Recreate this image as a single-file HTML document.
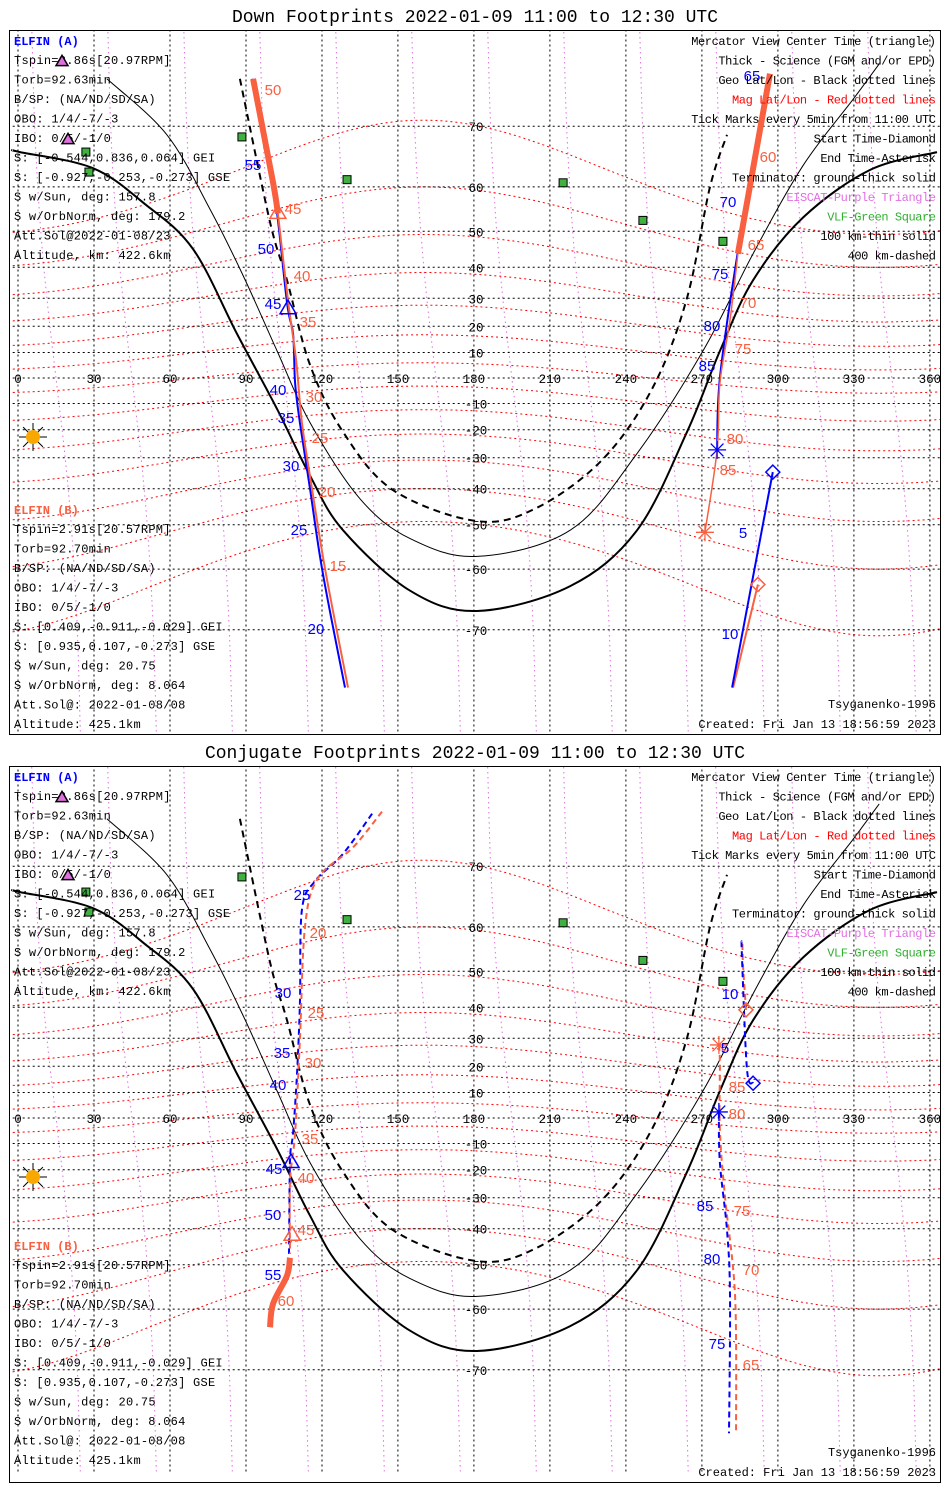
<!DOCTYPE html>
<html><head><meta charset="utf-8"><style>
html,body{margin:0;padding:0;background:#fff;width:950px;height:1500px;overflow:hidden;}
svg{display:block;}
text{font-family:"Liberation Mono","DejaVu Sans Mono",monospace;}
</style></head><body>
<svg id="chart" width="950" height="1500" viewBox="0 0 950 1500" xmlns="http://www.w3.org/2000/svg">
<defs>
<clipPath id="clip1"><rect x="10" y="31" width="930" height="702"/></clipPath>
<clipPath id="clip2"><rect x="10" y="767" width="930" height="714"/></clipPath>
</defs>
</svg>
<script>
// ---- data (lon, lat in degrees) ----
const lonTicks = [0,30,60,90,120,150,180,210,240,270,300,330,360];
const latTicks = [70,60,50,40,30,20,10,-10,-20,-30,-40,-50,-60,-70];
const termThick = [[-2,66.5],[0.8,66.2],[29.6,63.5],[50,56.5],[69.1,45.3],[86.5,17.1],[102.3,-12.2],[115.3,-36],[128.3,-51.4],[154.8,-64],[181.2,-67.3],[218,-63.2],[244.4,-51.4],[264.1,-20.8],[277.1,10.6],[290.2,36],[310,53.4],[336.4,63.2],[362.8,66.2]];
const termThin = [[35.1,75.5],[58.8,68.8],[75.8,55.3],[88.8,37.6],[102.3,10.6],[115.3,-17.4],[135,-43],[154.8,-53.4],[181.2,-57.4],[218,-51.4],[244.4,-28.5],[270.4,10.6],[290.2,44],[310,64],[329.6,73.3],[340,76.9]];
const termDash = [[87.6,75.5],[99.5,52.3],[106.2,36],[115.3,5.1],[128.3,-20.8],[148,-40.4],[181.2,-49.1],[204.9,-45.5],[231,-30.4],[250.7,-3.6],[264.1,30.1],[273.2,60],[279.9,68.8]];
const vlfStations = [[88.4,68.5],[26.8,66.2],[28,62.8],[129.9,61.4],[215.2,60.8],[246.7,52.7],[278.3,47.4]];
const magLats = [-60,-50,-40,-30,-20,-10,0,10,20,30,40,50,60];
const magLons = [15,45,75,105,135,165,195,225,255,285,315,345];

// panel 1 tracks
const p1BlueL = [[92.4,75.5],[100.7,60.8],[106.2,28.6],[108.6,17.1],[109.4,-2],[111.3,-17.4],[115.3,-40.2],[120.4,-61],[129.1,-76.5]];
const p1RedLThick = [[92.8,75.5],[100.7,60.8],[102.6,54.3]];
const p1RedL = [[102.6,54.3],[106.6,29.2],[109.8,7],[112.1,-17.4],[116.1,-40.2],[121.6,-61],[130.3,-76.5]];
const p1BlueR = [[296,75.8],[283.8,42.8],[277.1,0],[276,-27.3]];
const p1RedRThick = [[296.9,76],[284.2,44]];
const p1RedR = [[284.2,44],[281.1,22.3],[277.1,-2],[276,-27.3],[271.2,-51.9]];
const p1BlueR2 = [[298,-34.8],[281.9,-76.5]];
const p1RedR2 = [[292.1,-62.9],[282.3,-76.5]];
// panel 2 tracks
const p2BlueL = [[139.8,76],[128.3,71.6],[117.3,67.9],[112.1,63.2],[111.3,41],[110.1,16.3],[108.6,-5.9],[107.4,-16.7],[107,-47.2]];
const p2RedL = [[143.7,76.2],[132.3,72.4],[118.4,68.3],[113.3,60],[111.3,29.4],[109.4,-5.9],[107.4,-24.3],[107.4,-47.2]];
const p2RedLThick = [[107.4,-48.2],[106.2,-52.7],[100.7,-58.9],[99.5,-63.4]];
const p2BlueR1 = [[290.2,13.6],[287.8,18.8],[285.8,53.8],[285.8,57]];
const p2BlueR2 = [[276.7,2.4],[277.1,-17.4],[279.9,-40.4],[281.1,-57.4],[280.7,-77]];
const p2RedR1 = [[287.4,39.2],[286.2,52],[286,57]];
const p2RedR2 = [[276.7,27.7],[277.1,21.3],[277.1,-4.7],[279.1,-29.7],[283.1,-57.4],[283.5,-77]];

const leftA = ["Tspin=2.86s[20.97RPM]","Torb=92.63min","B/SP: (NA/ND/SD/SA)","OBO: 1/4/-7/-3","IBO: 0/5/-1/0","S: [-0.544,0.836,0.064] GEI","S: [-0.927,-0.253,-0.273] GSE","S w/Sun, deg: 157.8","S w/OrbNorm, deg: 179.2","Att.Sol@2022-01-08/23","Altitude, km: 422.6km"];
const leftB = ["Tspin=2.91s[20.57RPM]","Torb=92.70min","B/SP: (NA/ND/SD/SA)","OBO: 1/4/-7/-3","IBO: 0/5/-1/0","S: [0.409,-0.911,-0.029] GEI","S: [0.935,0.107,-0.273] GSE","S w/Sun, deg: 20.75","S w/OrbNorm, deg: 8.064","Att.Sol@: 2022-01-08/08","Altitude: 425.1km"];
const legendLines = [["Mercator View Center Time (triangle)","#000"],["Thick - Science (FGM and/or EPD)","#000"],["Geo Lat/Lon - Black dotted lines","#000"],["Mag Lat/Lon - Red dotted lines","#ff0000"],["Tick Marks every 5min from 11:00 UTC","#000"],["Start Time-Diamond","#000"],["End Time-Asterisk","#000"],["Terminator: ground-thick solid","#000"],["EISCAT-Purple Triangle","#e070e0"],["VLF-Green Square","#30b030"],["100 km-thin solid","#000"],["400 km-dashed","#000"]];

const BLUE="#0000ff", RED="#f86040";
const p1Labels = [["50",RED,273,89],["45",RED,293,208],["40",RED,302,275],["35",RED,308,321],["30",RED,314,396],["25",RED,320,437],["20",RED,327,491],["15",RED,338,565],
["55",BLUE,253,164],["50",BLUE,266,248],["45",BLUE,273,303],["40",BLUE,278,389],["35",BLUE,286,417],["30",BLUE,291,465],["25",BLUE,299,529],["20",BLUE,316,628],
["65",BLUE,752,75],["70",BLUE,728,201],["75",BLUE,720,273],["80",BLUE,712,325],["85",BLUE,707,365],["5",BLUE,743,532],["10",BLUE,730,633],
["60",RED,768,156],["65",RED,756,244],["70",RED,748,302],["75",RED,743,348],["80",RED,735,438],["85",RED,728,469]];
const p2Labels = [["25",BLUE,302,894],["30",BLUE,283,992],["35",BLUE,282,1052],["40",BLUE,278,1084],["45",BLUE,274,1168],["50",BLUE,273,1214],["55",BLUE,273,1274],
["20",RED,318,932],["25",RED,316,1012],["30",RED,313,1062],["35",RED,310,1138],["40",RED,306,1177],["45",RED,306,1229],["60",RED,286,1300],
["10",BLUE,730,993],["5",BLUE,725,1047],["85",BLUE,705,1205],["80",BLUE,712,1258],["75",BLUE,717,1343],
["85",RED,737,1086],["80",RED,737,1113],["75",RED,742,1210],["70",RED,751,1269],["65",RED,751,1364]];

// ---- helpers ----
const svg = document.getElementById('chart');
const NS = "http://www.w3.org/2000/svg";
const X = lon => 18 + lon*2.533;
const R = 145.1;
function mk(tag, parent){ const e=document.createElementNS(NS,tag); (parent||svg).appendChild(e); return e; }
function Yf(y0){ return lat => y0 - R*Math.log(Math.tan(Math.PI/4 + lat*Math.PI/360)); }
function pathD(pts, Y, smooth){
  const P = pts.map(p=>[X(p[0]),Y(p[1])]);
  if(!smooth || P.length<3) return "M"+P.map(p=>p[0].toFixed(1)+","+p[1].toFixed(1)).join("L");
  let d="M"+P[0][0].toFixed(1)+","+P[0][1].toFixed(1);
  for(let i=0;i<P.length-1;i++){
    const p0=P[Math.max(i-1,0)],p1=P[i],p2=P[i+1],p3=P[Math.min(i+2,P.length-1)];
    const c1=[p1[0]+(p2[0]-p0[0])/6,p1[1]+(p2[1]-p0[1])/6];
    const c2=[p2[0]-(p3[0]-p1[0])/6,p2[1]-(p3[1]-p1[1])/6];
    d+="C"+c1.map(v=>v.toFixed(1)).join(",")+" "+c2.map(v=>v.toFixed(1)).join(",")+" "+p2[0].toFixed(1)+","+p2[1].toFixed(1);
  }
  return d;
}
function line(g, pts, Y, color, w, dash, smooth, name){
  const p=mk('path',g);
  p.setAttribute('d',pathD(pts,Y,smooth));
  p.setAttribute('fill','none'); p.setAttribute('stroke',color); p.setAttribute('stroke-width',w);
  if(dash) p.setAttribute('stroke-dasharray',dash);
  
  
  return p;
}
function txt(parent, s, x, y, color, size, anchor){
  const t=mk('text',parent); t.textContent=s;
  t.setAttribute('x',x); t.setAttribute('y',y); t.setAttribute('fill',color);
  t.setAttribute('font-size',size); if(anchor) t.setAttribute('text-anchor',anchor);
  return t;
}
function triangle(g,x,y,color,fill,s){
  s=s||8;
  const p=mk('polygon',g);
  p.setAttribute('points',`${x},${y-s*1.1} ${x-s},${y+s*0.6} ${x+s},${y+s*0.6}`);
  p.setAttribute('fill',fill||'none'); p.setAttribute('stroke',color); p.setAttribute('stroke-width',1.5);
  return p;
}
function diamond(g,x,y,color){
  const p=mk('polygon',g);
  p.setAttribute('points',`${x},${y-7} ${x+7},${y} ${x},${y+7} ${x-7},${y}`);
  p.setAttribute('fill','none'); p.setAttribute('stroke',color); p.setAttribute('stroke-width',1.5);
  return p;
}
function asterisk(g,x,y,color){
  const gg=mk('g',g);
  for(let a=0;a<4;a++){ const ang=a*Math.PI/4; const l=mk('line',gg);
    l.setAttribute('x1',x-9*Math.cos(ang)); l.setAttribute('y1',y-9*Math.sin(ang));
    l.setAttribute('x2',x+9*Math.cos(ang)); l.setAttribute('y2',y+9*Math.sin(ang));
    l.setAttribute('stroke',color); l.setAttribute('stroke-width',1.3); }
  return gg;
}

function panel(idx, top, bottom, y0, title, tracks, markers, labels){
  const Y = Yf(y0);
  const ttl = txt(svg, title, 475, top-8, '#000', 18, 'middle');
  
  
  const box = mk('rect');
  box.setAttribute('x',9.5); box.setAttribute('y',top+0.5); box.setAttribute('width',931); box.setAttribute('height',bottom-top);
  box.setAttribute('fill','none'); box.setAttribute('stroke','#000');
  
  
  const g = mk('g'); g.setAttribute('clip-path',`url(#clip${idx})`);
  
  
  // mag lon (purple)
  magLons.forEach(L=>{
    const pts=[]; for(let lat=-80;lat<=80;lat+=8) pts.push([L - 0.12*lat, lat]);
    line(g, pts, Y, '#e070e0', 1, '1.5,3.5', true, 'mag-lon-line');
  });
  // mag lat (red)
  magLats.forEach(m=>{
    const pts=[]; for(let lon=-10;lon<=370;lon+=10) pts.push([lon, m + (6+Math.abs(m)*0.08)*Math.cos((lon-160)*Math.PI/180)]);
    line(g, pts, Y, '#ff0000', 1, '2,3', true, 'mag-lat-line');
  });
  // geo grid
  latTicks.concat([0]).forEach(lat=>{
    line(g, [[-10,lat],[370,lat]], Y, '#000', 1, '2,3', false, 'geo-lat-line');
  });
  lonTicks.forEach(lon=>{
    line(g, [[lon,-80],[lon,80]], Y, '#000', 1, '2,3', false, 'geo-lon-line');
  });
  // terminators
  line(g, termThick, Y, '#000', 2, null, true, 'terminator-ground');
  line(g, termThin, Y, '#000', 1, null, true, 'terminator-100km');
  line(g, termDash, Y, '#000', 2, '7,5', true, 'terminator-400km');
  // tick labels
  lonTicks.forEach(lon=>{
    const t=txt(g, String(lon), X(lon), y0+5, '#000', 12.5, 'middle');
    
    
  });
  latTicks.forEach(lat=>{
    const t=txt(g, String(lat), 476, Y(lat)+5, '#000', 12.5, 'middle');
    
    
  });
  // VLF squares
  vlfStations.forEach(s=>{
    const r=mk('rect',g); r.setAttribute('x',X(s[0])-4); r.setAttribute('y',Y(s[1])-4);
    r.setAttribute('width',8); r.setAttribute('height',8); r.setAttribute('fill','#40b040'); r.setAttribute('stroke','#000');
    
    
  });
  // sun
  const sy = y0+59;
  const sun=mk('g',g);
  
  
  for(let a=0;a<8;a++){ const ang=a*Math.PI/4; const l=mk('line',sun);
    l.setAttribute('x1',33+6*Math.cos(ang)); l.setAttribute('y1',sy+6*Math.sin(ang));
    l.setAttribute('x2',33+14*Math.cos(ang)); l.setAttribute('y2',sy+14*Math.sin(ang));
    l.setAttribute('stroke','#000'); }
  const c=mk('circle',sun); c.setAttribute('cx',33); c.setAttribute('cy',sy); c.setAttribute('r',7); c.setAttribute('fill','#f8a800');
  // tracks
  tracks.forEach(t=>{ line(g, t.pts, Y, t.c, t.w, t.dash, true, t.name); });
  markers.forEach(m=>{
    const x=X(m.p[0]), y=Y(m.p[1]); let e;
    if(m.t==='tri') e=triangle(g,x,y,m.c); else if(m.t==='dia') e=diamond(g,x,y,m.c); else e=asterisk(g,x,y,m.c);
    
    
  });
  labels.forEach(l=>{
    const t=txt(g, l[0], l[2], l[3]+6, l[1], 15, 'middle');
    t.style.fontFamily='"Liberation Sans",sans-serif';
    
    
  });
  // text blocks
  const tg=mk('g',svg);
  
  
  const lh=19.5;
  let t=txt(tg,'ELFIN (A)',14,top+15,'#0000ff',12); t.setAttribute('font-weight','bold');
  leftA.forEach((s,i)=>{ const q=txt(tg,s,14,top+34+i*lh,'#000',12); q.setAttribute('textLength', s.length*7.45); });
  t=txt(tg,'ELFIN (B)',14,top+484,'#f86040',12); t.setAttribute('font-weight','bold');
  leftB.forEach((s,i)=>{ const q=txt(tg,s,14,top+503+i*lh,'#000',12); q.setAttribute('textLength', s.length*7.45); });
  legendLines.forEach((s,i)=>{ const q=txt(tg,s[0],936,top+15+i*lh,s[1],12,'end'); q.setAttribute('textLength', s[0].length*6.8); });
  txt(tg,'Tsyganenko-1996',936,bottom-26,'#000',12,'end');
  txt(tg,'Created: Fri Jan 13 18:56:59 2023',936,bottom-6,'#000',12,'end');
  triangle(tg,62,top+32,'#000','#e070e0',6);
  triangle(tg,68,top+110,'#000','#e070e0',6);
}

panel(1, 30, 734, 378, 'Down Footprints 2022-01-09 11:00 to 12:30 UTC', [
  {pts:p1BlueL,c:BLUE,w:2,name:'elfin-a-track-west'},
  {pts:p1RedL,c:RED,w:2,name:'elfin-b-track-west'},
  {pts:p1RedLThick,c:RED,w:6,name:'elfin-b-science-west'},
  {pts:p1BlueR,c:BLUE,w:2,name:'elfin-a-track-east'},
  {pts:p1RedR,c:RED,w:1.5,name:'elfin-b-track-east'},
  {pts:p1RedRThick,c:RED,w:6,name:'elfin-b-science-east'},
  {pts:p1RedR2,c:RED,w:2,name:'elfin-b-track-south'},
  {pts:p1BlueR2,c:BLUE,w:2,name:'elfin-a-track-south'}
],[
  {t:'tri',p:[106.6,26.3],c:BLUE,name:'elfin-a-center-triangle'},
  {t:'tri',p:[102.6,54.3],c:RED,name:'elfin-b-center-triangle'},
  {t:'ast',p:[276,-27.3],c:BLUE,name:'elfin-a-end-asterisk'},
  {t:'ast',p:[271.2,-51.9],c:RED,name:'elfin-b-end-asterisk'},
  {t:'dia',p:[298,-34.8],c:BLUE,name:'elfin-a-start-diamond'},
  {t:'dia',p:[292.1,-62.9],c:RED,name:'elfin-b-start-diamond'}
], p1Labels);

panel(2, 766, 1482, 1118, 'Conjugate Footprints 2022-01-09 11:00 to 12:30 UTC', [
  {pts:p2BlueL,c:BLUE,w:2,dash:'6,4',name:'elfin-a-track-west'},
  {pts:p2RedL,c:RED,w:2,dash:'6,4',name:'elfin-b-track-west'},
  {pts:p2RedLThick,c:RED,w:6,name:'elfin-b-science-west'},
  {pts:p2RedR1,c:RED,w:2,dash:'6,4',name:'elfin-b-track-east-start'},
  {pts:p2RedR2,c:RED,w:2,dash:'6,4',name:'elfin-b-track-east'},
  {pts:p2BlueR1,c:BLUE,w:2,dash:'6,4',name:'elfin-a-track-east-start'},
  {pts:p2BlueR2,c:BLUE,w:2,dash:'6,4',name:'elfin-a-track-east'}
],[
  {t:'tri',p:[107.8,-17.4],c:BLUE,name:'elfin-a-center-triangle'},
  {t:'tri',p:[108.2,-42],c:RED,name:'elfin-b-center-triangle'},
  {t:'ast',p:[276.7,2.4],c:BLUE,name:'elfin-a-end-asterisk'},
  {t:'ast',p:[276.7,27.7],c:RED,name:'elfin-b-end-asterisk'},
  {t:'dia',p:[290.2,13.6],c:BLUE,name:'elfin-a-start-diamond'},
  {t:'dia',p:[287.4,39.2],c:RED,name:'elfin-b-start-diamond'}
], p2Labels);
</script>
</body></html>
